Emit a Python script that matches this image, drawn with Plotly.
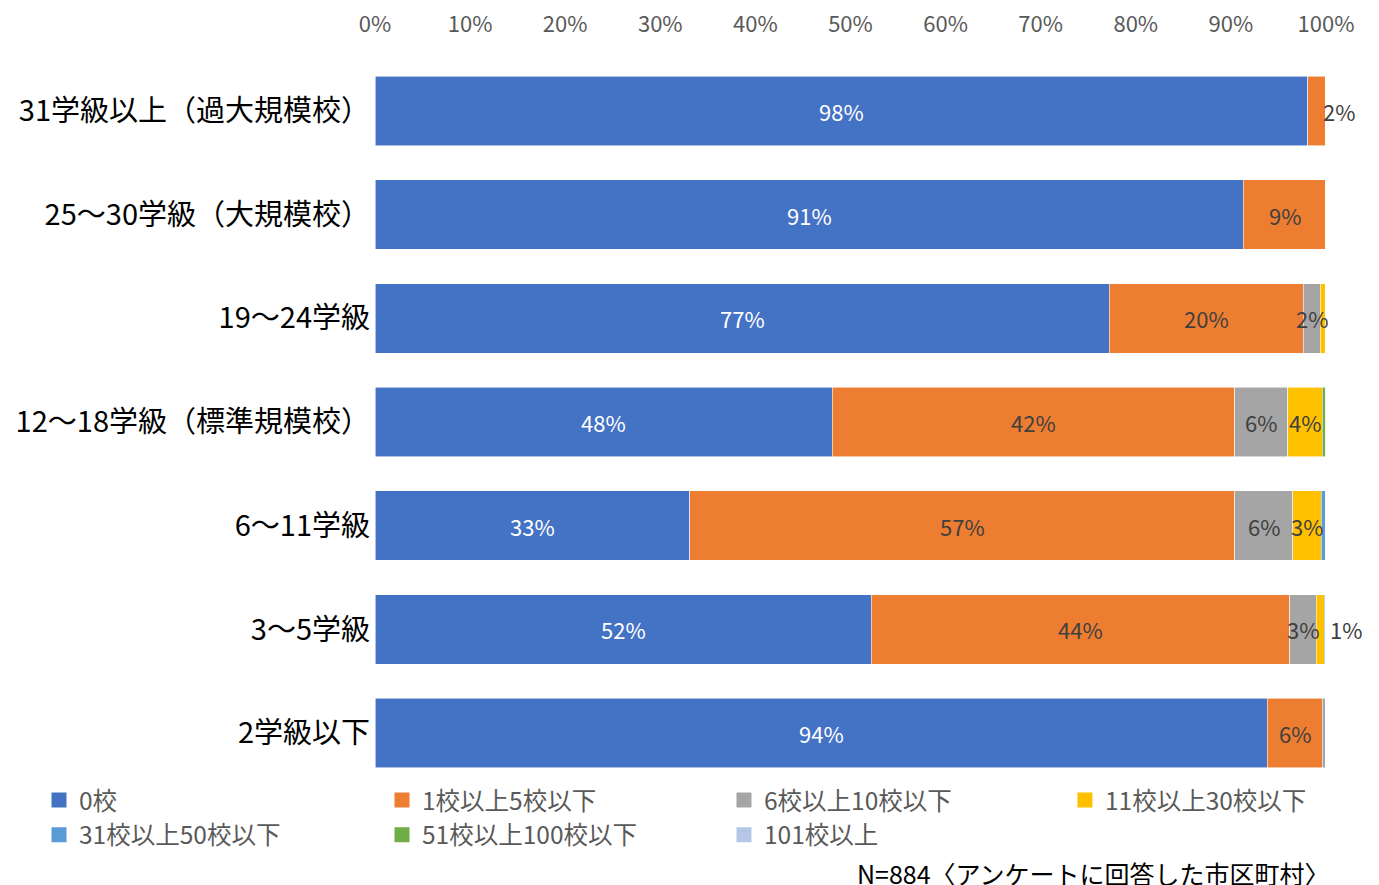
import plotly.graph_objects as go

categories = ["31学級以上（過大規模校）", "25～30学級（大規模校）", "19～24学級",
              "12～18学級（標準規模校）", "6～11学級", "3～5学級", "2学級以下"]

series_names = ["0校", "1校以上5校以下", "6校以上10校以下", "11校以上30校以下",
                "31校以上50校以下", "51校以上100校以下", "101校以上"]

v_0 = [98.1, 91.3, 77.2, 48.1, 33.1, 52.2, 93.8]
v_1_5 = [1.9, 8.7, 20.4, 42.3, 57.3, 44.0, 5.8]
v_6_10 = [0.0, 0.0, 1.8, 5.6, 6.1, 2.8, 0.4]
v_11_30 = [0.0, 0.0, 0.6, 3.6, 3.0, 0.8, 0.0]
v_31_50 = [0.0, 0.0, 0.0, 0.0, 0.5, 0.2, 0.0]
v_51_100 = [0.0, 0.0, 0.0, 0.4, 0.0, 0.0, 0.0]
v_101 = [0.0, 0.0, 0.0, 0.0, 0.0, 0.0, 0.0]

tick_vals = [0, 10, 20, 30, 40, 50, 60, 70, 80, 90, 100]
tick_text = [f"{t}%" for t in tick_vals]

colors = ["#4472C4", "#ED7D31", "#A5A5A5", "#FFC000", "#5B9BD5", "#70AD47", "#B4C7E7"]
text_colors = ["white", "#404040", "#404040", "#404040", "#404040", "#404040", "#404040"]

# legend column for each series (Excel-like 4-column grid)
legend_ids = ["legend", "legend2", "legend3", "legend4", "legend", "legend2", "legend3"]

# labels drawn just outside the bar end: (series index, category index)
outside_labels = [(1, 0), (3, 5)]

all_values = [v_0, v_1_5, v_6_10, v_11_30, v_31_50, v_51_100, v_101]

FONT = "Noto Sans CJK JP"

# plot area: 0% at x=367 (figure px), 100% at 1318; range extended a bit so
# overflowing labels at the bar ends have room
X_MAX = 104
PLOT_L = 367
UNIT = (1318 - PLOT_L) / 100.0
PLOT_W = UNIT * X_MAX
R_MARGIN = 1379 - PLOT_L - PLOT_W


def legend_x_at(px):
    return (px - PLOT_L) / PLOT_W


legend_x = {"legend": legend_x_at(31), "legend2": legend_x_at(374),
            "legend3": legend_x_at(716), "legend4": legend_x_at(1057)}

fig = go.Figure()
for si, (name, vals) in enumerate(zip(series_names, all_values)):
    fig.add_trace(go.Bar(
        y=categories, x=vals, name=name, orientation="h",
        showlegend=False,
        marker=dict(color=colors[si], line=dict(color="rgba(255,255,255,0.7)", width=0.8)),
        hoverinfo="skip",
    ))
    # legend-only entry with a larger square swatch
    fig.add_trace(go.Scatter(
        x=[None], y=[None], mode="markers", name=name,
        legend=legend_ids[si], legendgroup=name,
        marker=dict(symbol="square", size=15, color=colors[si]),
        hoverinfo="skip",
    ))

# data labels (centred in each segment, or just past the bar end)
for ci, cat in enumerate(categories):
    start = 0.0
    total = sum(vals[ci] for vals in all_values)
    for si, vals in enumerate(all_values):
        v = vals[ci]
        if (si, ci) in outside_labels:
            fig.add_annotation(
                x=total, y=cat, xref="x", yref="y",
                text=f"{max(1, round(v))}%", showarrow=False, xanchor="left",
                xshift=-5 if ci == 0 else 2,
                font=dict(size=22, color="#404040", family=FONT),
            )
        elif v >= 1.5:
            fig.add_annotation(
                x=start + v / 2, y=cat, xref="x", yref="y",
                text=f"{round(v)}%", showarrow=False, xanchor="center",
                font=dict(size=22, color=text_colors[si], family=FONT),
            )
        start += v

fig.add_annotation(
    x=100, y=-0.1212, xref="x", yref="paper", xanchor="right", yanchor="middle",
    xshift=6,
    text="N=884〈アンケートに回答した市区町村〉", showarrow=False,
    font=dict(size=25, color="#000000", family=FONT),
)

legend_common = dict(
    orientation="v", xanchor="left", y=0.0102, yanchor="top",
    font=dict(size=24.5, color="#595959", family=FONT),
    traceorder="normal", itemclick=False, itemdoubleclick=False,
    tracegroupgap=6, bgcolor="rgba(0,0,0,0)",
)

fig.update_layout(
    barmode="stack", bargap=0.33,
    width=1379, height=885,
    margin=dict(l=PLOT_L, r=R_MARGIN, t=51, b=108, autoexpand=False),
    plot_bgcolor="white", paper_bgcolor="white",
    font=dict(family=FONT),
    showlegend=True,
    legend=dict(x=legend_x["legend"], **legend_common),
    legend2=dict(x=legend_x["legend2"], **legend_common),
    legend3=dict(x=legend_x["legend3"], **legend_common),
    legend4=dict(x=legend_x["legend4"], **legend_common),
    xaxis=dict(
        side="top", range=[0, X_MAX], tickmode="array",
        tickvals=tick_vals, ticktext=tick_text,
        showgrid=False, zeroline=False, showline=False, automargin=False,
        tickfont=dict(size=22, color="#595959", family=FONT), ticklabelstandoff=22,
    ),
    yaxis=dict(
        autorange="reversed", showgrid=False, zeroline=False, showline=False,
        automargin=False,
        tickfont=dict(size=29, color="#000000", family=FONT), ticks="", ticklabelstandoff=4,
    ),
)

fig.write_html("out.html")
